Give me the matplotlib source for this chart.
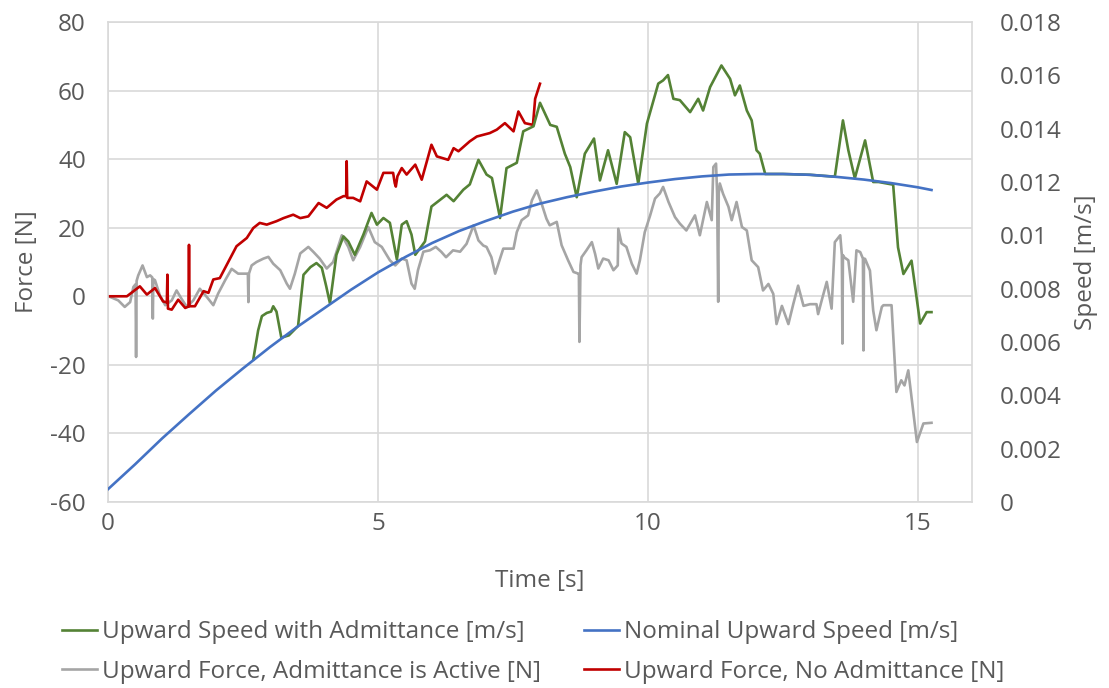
import matplotlib.pyplot as plt

plt.rcParams['font.family'] = ['Open Sans', 'DejaVu Sans']
plt.rcParams['axes.unicode_minus'] = False

# time [s] and force [N] with admittance switched on
grey_t = [0.04, 0.19, 0.31, 0.41, 0.47, 0.51, 0.52, 0.53, 0.56, 0.64,
          0.72, 0.78, 0.82, 0.83, 0.84, 0.87, 0.96, 1.06, 1.18, 1.27,
          1.36, 1.46, 1.58, 1.70, 1.83, 1.95, 2.04, 2.17, 2.29, 2.41,
          2.57, 2.59, 2.60, 2.61, 2.66, 2.75, 2.88, 2.97, 3.06, 3.19,
          3.31, 3.37, 3.46, 3.56, 3.71, 3.80, 3.92, 4.05, 4.17, 4.33,
          4.45, 4.54, 4.67, 4.82, 4.94, 5.07, 5.22, 5.32, 5.44, 5.53,
          5.62, 5.68, 5.74, 5.84, 5.96, 6.07, 6.17, 6.26, 6.39, 6.52,
          6.64, 6.77, 6.86, 6.95, 7.01, 7.10, 7.17, 7.23, 7.32, 7.51,
          7.57, 7.66, 7.78, 7.85, 7.94, 8.03, 8.12, 8.18, 8.31, 8.40,
          8.52, 8.62, 8.71, 8.72, 8.73, 8.75, 8.77, 8.86, 8.96, 9.02,
          9.08, 9.17, 9.27, 9.36, 9.44, 9.45, 9.51, 9.60, 9.70, 9.79,
          9.85, 9.94, 10.04, 10.13, 10.22, 10.28, 10.38, 10.50, 10.59, 10.71,
          10.87, 10.96, 11.09, 11.18, 11.21, 11.26, 11.28, 11.30, 11.31, 11.33,
          11.39, 11.49, 11.55, 11.64, 11.74, 11.83, 11.92, 12.04, 12.13, 12.23,
          12.32, 12.38, 12.48, 12.60, 12.69, 12.78, 12.88, 13.00, 13.12, 13.15,
          13.22, 13.31, 13.40, 13.46, 13.56, 13.59, 13.60, 13.61, 13.63, 13.71,
          13.80, 13.86, 13.93, 13.98, 13.99, 14.00, 14.02, 14.11, 14.17, 14.23,
          14.33, 14.36, 14.51, 14.60, 14.69, 14.75, 14.82, 14.98, 15.10, 15.25]
grey_f = [-0.2, -1.2, -3.1, -1.7, 2.7, 3.5, -17.7, 4.5, 6.1, 9.0,
          5.6, 6.1, 5.5, -6.5, 5.0, 4.7, 0.3, -2.6, -1.2, 1.7,
          -0.7, -3.1, -1.2, 2.2, -0.2, -2.6, 0.8, 4.7, 8.0, 6.6,
          6.6, 6.6, -1.7, 6.6, 9.0, 10.0, 11.0, 11.5, 9.5, 7.6,
          3.7, 2.2, 6.6, 12.5, 14.4, 13.0, 11.0, 8.1, 10.0, 17.8,
          14.4, 10.5, 14.4, 20.2, 15.8, 14.4, 10.5, 9.0, 11.0, 10.5,
          3.7, 2.2, 7.6, 13.0, 13.4, 14.4, 13.0, 11.4, 13.4, 13.0,
          15.3, 20.7, 16.3, 14.8, 14.4, 11.4, 6.6, 9.5, 13.9, 13.9,
          18.7, 22.2, 23.6, 28.0, 30.9, 27.0, 22.6, 20.7, 21.7, 14.9,
          10.5, 7.1, 6.6, 6.6, -13.3, 9.0, 11.4, 13.4, 15.8, 12.4,
          8.1, 11.0, 10.5, 7.6, 9.0, 19.7, 15.4, 14.4, 9.5, 6.6,
          10.5, 18.7, 23.6, 28.5, 30.0, 31.9, 27.5, 23.1, 21.2, 19.2,
          23.6, 17.8, 27.5, 22.2, 37.7, 38.7, 30.0, -1.6, 30.0, 32.9,
          29.9, 26.1, 22.2, 27.5, 20.2, 19.2, 10.5, 8.5, 1.7, 3.6,
          0.7, -8.1, -2.8, -8.1, -2.3, 3.1, -2.8, -2.3, -2.3, -5.2,
          -1.0, 4.2, -3.6, 15.8, 17.8, 12.0, -13.8, 12.0, 11.4, 10.5,
          -1.6, 13.4, 12.9, 11.0, -15.8, 11.0, 10.9, 7.5, -4.1, -9.9,
          -3.1, -2.6, -2.6, -27.9, -24.5, -26.0, -21.6, -42.5, -37.1, -36.9]

# force [N] without admittance
red_t = [0.00, 0.35, 0.59, 0.72, 0.87, 1.02, 1.09, 1.10, 1.11, 1.18,
         1.30, 1.43, 1.49, 1.50, 1.51, 1.61, 1.77, 1.86, 1.95, 2.07,
         2.20, 2.38, 2.57, 2.69, 2.81, 2.94, 3.12, 3.25, 3.43, 3.56,
         3.71, 3.90, 4.05, 4.23, 4.36, 4.41, 4.42, 4.43, 4.54, 4.67,
         4.79, 4.98, 5.10, 5.28, 5.31, 5.33, 5.36, 5.44, 5.53, 5.69,
         5.81, 5.99, 6.09, 6.30, 6.40, 6.49, 6.70, 6.83, 7.07, 7.20,
         7.35, 7.51, 7.60, 7.72, 7.87, 7.91, 8.00]
red_f = [0.0, 0.0, 2.9, 0.5, 2.4, -1.5, -1.8, 6.3, -3.6, -3.9,
         -1.0, -3.4, -3.0, 15.0, -2.9, -2.9, 1.5, 1.0, 4.9, 5.3,
         9.2, 14.6, 17.0, 19.9, 21.4, 20.9, 21.9, 22.8, 23.8, 22.8,
         23.3, 27.2, 25.8, 28.2, 29.2, 29.2, 39.4, 28.7, 28.7, 27.7,
         33.5, 31.1, 36.0, 36.0, 33.0, 32.0, 35.0, 37.4, 35.5, 38.4,
         34.0, 44.2, 40.8, 39.8, 43.2, 42.3, 45.2, 46.6, 47.6, 48.6,
         50.5, 48.1, 53.9, 50.5, 50.0, 57.6, 62.0]

# upward speed [m/s] with admittance
green_t = [2.69, 2.78, 2.85, 2.94, 3.02, 3.06, 3.12, 3.21, 3.35, 3.52,
           3.62, 3.75, 3.86, 3.96, 4.04, 4.11, 4.23, 4.36, 4.45, 4.57,
           4.73, 4.88, 4.98, 5.10, 5.22, 5.35, 5.44, 5.53, 5.62, 5.69,
           5.87, 5.99, 6.27, 6.40, 6.58, 6.70, 6.86, 7.01, 7.11, 7.26,
           7.38, 7.57, 7.69, 7.88, 8.00, 8.19, 8.31, 8.46, 8.56, 8.68,
           8.83, 9.00, 9.11, 9.26, 9.42, 9.57, 9.67, 9.82, 9.98, 10.19,
           10.28, 10.37, 10.47, 10.59, 10.78, 10.93, 11.02, 11.15, 11.36, 11.52,
           11.61, 11.70, 11.83, 11.92, 12.01, 12.07, 12.17, 12.50, 13.00, 13.46,
           13.61, 13.71, 13.83, 14.02, 14.17, 14.27, 14.54, 14.63, 14.73, 14.88,
           15.04, 15.16, 15.25]
green_v = [0.00534, 0.00643, 0.00697, 0.00709, 0.00714, 0.00734, 0.00714, 0.00616, 0.00625, 0.00660,
           0.00852, 0.00881, 0.00896, 0.00878, 0.00810, 0.00745, 0.00927, 0.00996, 0.00977, 0.00927,
           0.01003, 0.01084, 0.01040, 0.01065, 0.01047, 0.00909, 0.01040, 0.01053, 0.01003, 0.00927,
           0.00977, 0.01108, 0.01152, 0.01128, 0.01171, 0.01191, 0.01283, 0.01228, 0.01215, 0.01065,
           0.01252, 0.01272, 0.01390, 0.01409, 0.01497, 0.01414, 0.01407, 0.01306, 0.01256, 0.01143,
           0.01306, 0.01363, 0.01206, 0.01319, 0.01193, 0.01387, 0.01368, 0.01193, 0.01419, 0.01569,
           0.01581, 0.01601, 0.01512, 0.01507, 0.01462, 0.01512, 0.01468, 0.01556, 0.01637, 0.01587,
           0.01525, 0.01562, 0.01468, 0.01431, 0.01319, 0.01306, 0.01230, 0.01230, 0.01227, 0.01220,
           0.01431, 0.01319, 0.01214, 0.01356, 0.01200, 0.01200, 0.01190, 0.00955, 0.00855, 0.00905,
           0.00669, 0.00712, 0.00712]

# nominal upward speed [m/s]
blue_t = [0.0, 0.5, 1.0, 1.5, 2.0, 2.5, 3.0, 3.5, 4.0, 4.5,
          5.0, 5.5, 6.0, 6.5, 7.0, 7.5, 8.0, 8.5, 9.0, 9.5,
          10.0, 10.5, 11.0, 11.5, 12.0, 12.5, 13.0, 13.5, 14.0, 14.5,
          15.0, 15.25]
blue_v = [0.00048, 0.00141, 0.00238, 0.00329, 0.00418, 0.00501, 0.00581, 0.00656, 0.00726, 0.00796,
          0.00861, 0.00918, 0.00971, 0.01016, 0.01054, 0.01089, 0.01119, 0.01143, 0.01164, 0.01183,
          0.01198, 0.01211, 0.01221, 0.01228, 0.01230, 0.01230, 0.01227, 0.01219, 0.01209, 0.01196,
          0.01180, 0.01170]

force_ticks = list(range(-60, 81, 20))
speed_ticks = [round(i * 0.002, 3) for i in range(10)]
time_ticks = [0, 5, 10, 15]

text_color = '#595959'
grid_color = '#d9d9d9'
fs = 17.5
lw = 1.9

fig = plt.figure(figsize=(11.09, 6.88), dpi=100)
ax = fig.add_axes([108 / 1109, 186 / 688, 864 / 1109, 480 / 688])
ax2 = ax.twinx()

l_grey, = ax.plot(grey_t, grey_f, color='#a5a5a5', lw=lw,
                  label='Upward Force, Admittance is Active [N]')
l_red, = ax.plot(red_t, red_f, color='#c00000', lw=lw,
                 label='Upward Force, No Admittance [N]')
l_green, = ax2.plot(green_t, green_v, color='#548235', lw=lw,
                    label='Upward Speed with Admittance [m/s]')
l_blue, = ax2.plot(blue_t, blue_v, color='#4472c4', lw=lw,
                   label='Nominal Upward Speed [m/s]')

ax.set_xlim(0, 16)
ax.set_ylim(-60, 80)
ax2.set_ylim(0, 0.018)
ax.set_xticks(time_ticks)
ax.set_yticks(force_ticks)
ax2.set_yticks(speed_ticks)
ax2.set_yticklabels([f'{v:g}' for v in speed_ticks])

ax.grid(True, color=grid_color, lw=1.2)
ax.set_axisbelow(True)
for sp in ax.spines.values():
    sp.set_color(grid_color)
    sp.set_linewidth(1.2)
for sp in ax2.spines.values():
    sp.set_visible(False)

ax.tick_params(axis='both', length=0, labelsize=fs, colors=text_color)
ax.tick_params(axis='y', pad=16)
ax.tick_params(axis='x', pad=7)
ax2.tick_params(axis='y', length=0, labelsize=fs, colors=text_color, pad=20)

ax.set_xlabel('Time [s]', fontsize=fs, color=text_color, labelpad=24)
ax.set_ylabel('Force [N]', fontsize=fs, color=text_color, labelpad=8)
ax2.set_ylabel('Speed [m/s]', fontsize=fs, color=text_color, labelpad=9)

leg = fig.legend(handles=[l_green, l_grey, l_blue, l_red], ncol=2,
                 loc='center', bbox_to_anchor=(533 / 1109, 36 / 688),
                 frameon=False, fontsize=fs, handlelength=1.45,
                 handletextpad=0.2, columnspacing=1.75, labelspacing=0.62)
for txt in leg.get_texts():
    txt.set_color(text_color)

fig.savefig('out.png', dpi=100)
